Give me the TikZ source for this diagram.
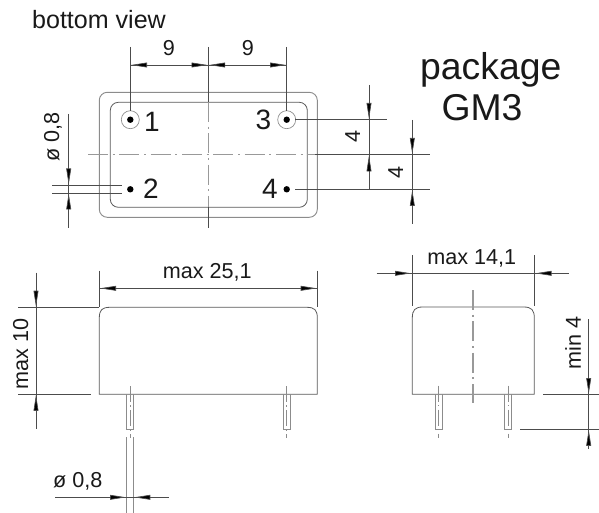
\documentclass[tikz,border=0pt]{standalone}
\usepackage{fontspec}
\setmainfont{Liberation Sans}
\usetikzlibrary{arrows.meta}
\tikzset{
  thinline/.style={draw=black!65,line width=0.6pt},
  paleline/.style={draw=black!45,line width=0.7pt},
  dimline/.style={draw=black!70,line width=0.5pt},
  dimtip/.style={draw=none,-{Triangle[length=12pt,width=3.6pt,fill=black]},line width=0.5pt,draw=black!70,shorten >=0pt},
  center1/.style={draw=black!40,line width=0.8pt,dash pattern=on 15pt off 3.5pt on 1.5pt off 3.5pt},
  center2/.style={draw=black!45,line width=0.6pt,dash pattern=on 12pt off 2.5pt on 1pt off 2.5pt},
  lab/.style={inner sep=0pt,text=black!90},
  labS/.style={lab,font=\fontsize{16.2}{18}\selectfont},
  labP/.style={lab,font=\fontsize{21}{24}\selectfont},
  labT/.style={lab,font=\fontsize{28}{30}\selectfont},
}
\begin{document}
\begin{tikzpicture}[x=0.75pt,y=-0.75pt]
\useasboundingbox (0,0) rectangle (599,513);
% ---- bottom view
\node[lab,font=\fontsize{18.8}{20}\selectfont,anchor=center] (title) at (99,20) {bottom view};
\draw[paleline,rounded corners=6pt] (99.3,92.3) rectangle (317.3,217.3);
\draw[thinline,rounded corners=6pt] (110.3,102.3) rectangle (307.3,207.3);
\foreach \n/\x/\y in {a/130.3/119.7,b/286.7/119.7}{
  \draw[paleline,line width=0.5pt] (\x,\y) circle[radius=9];
}
\foreach \n/\x/\y in {p1/130.3/119.7,p3/286.7/119.7,p2/130.3/189.3,p4/286.7/189.3}{
  \fill[black] (\x,\y) circle[radius=3.2];
  \coordinate (\n) at (\x,\y);
}
\node[labP] (n1) at (152,122) {1};
\node[labP] (n3) at (263.5,120) {3};
\node[labP] (n2) at (151,189) {2};
\node[labP] (n4) at (270,189) {4};
% centre lines
\draw[dimline] (208.3,47) -- (208.3,102);
\draw[center1] (208.3,102) -- (208.3,207);
\draw[dimline] (208.3,207) -- (208.3,228);
\draw[center1] (88,154.7) -- (315,154.7);
\draw[dimline] (315,154.7) -- (430,154.7);
% 9 / 9
\draw[dimline] (130.3,47) -- (130.3,111);
\draw[dimline] (286.7,47) -- (286.7,111);
\draw[dimline] (130.3,65) -- (286.7,65);
\draw[dimtip] (148,65) -- (131,65);
\draw[dimtip] (190,65) -- (207.5,65);
\draw[dimtip] (226,65) -- (209.2,65);
\draw[dimtip] (269,65) -- (286,65);
\node[labS] (d9a) at (169,48) {9};
\node[labS] (d9b) at (248,48) {9};
% pin dia, left
\draw[dimline] (68.7,114) -- (68.7,228);
\draw[dimline] (52,185) -- (122,185);
\draw[dimline] (52,193) -- (122,193);
\draw[dimtip] (68.7,168) -- (68.7,184.5);
\draw[dimtip] (68.7,211) -- (68.7,193.5);
\node[labS,rotate=90] (dia1) at (53,137) {ø 0,8};
% right 4 / 4
\draw[dimline] (295,119.7) -- (386.7,119.7);
\draw[dimline] (295,189.3) -- (430,189.3);
\draw[dimline] (369,85) -- (369,189.3);
\draw[dimtip] (369,102) -- (369,119);
\draw[dimtip] (369,172) -- (369,155.5);
\node[labS,rotate=90] (r4a) at (352.7,136.7) {4};
\draw[dimline] (412.3,120) -- (412.3,224);
\draw[dimtip] (412.3,137) -- (412.3,154);
\draw[dimtip] (412.3,207) -- (412.3,190);
\node[labS,rotate=90] (r4b) at (395.7,172) {4};
% package
\node[labT] (pk) at (490.8,69.5) {package};
\node[labT] (gm) at (482,107.5) {GM3};
% ---- front view
\draw[thinline] (99.3,394.3) -- (99.3,318) .. controls (99.3,310) and (102,307.3) .. (110,307.3) -- (306.6,307.3) .. controls (314.6,307.3) and (317.3,310) .. (317.3,318) -- (317.3,394.3) -- cycle;
\foreach \x in {130.2,286.8}{
  \draw[paleline,line width=0.5pt] (\x-3.5,394.3) -- (\x-3.5,429.3) -- (\x+3.5,429.3) -- (\x+3.5,394.3);
  \draw[center2] (\x,386) -- (\x,437.5);
}
\draw[dimline] (99.3,270.7) -- (99.3,307);
\draw[dimline] (317.3,270.7) -- (317.3,307);
\draw[dimline] (99.3,288.3) -- (317.3,288.3);
\draw[dimtip] (117,288.3) -- (100,288.3);
\draw[dimtip] (299.3,288.3) -- (316.7,288.3);
\node[labS] (w) at (207.3,272.7) {max 25,1};
\draw[dimline] (36,272.7) -- (36,429);
\draw[dimline] (18.3,307.3) -- (99.3,307.3);
\draw[dimline] (18.3,394.3) -- (90.7,394.3);
\draw[dimtip] (36,290.7) -- (36,306.7);
\draw[dimtip] (36,411) -- (36,394.8);
\node[labS,rotate=90] (h) at (20.7,353.8) {max 10};
% lower pin dia
\draw[paleline,line width=0.5pt] (126.7,437.3) -- (126.7,513);
\draw[paleline,line width=0.5pt] (133.7,437.3) -- (133.7,513);
\draw[dimline] (55,497.3) -- (169,497.3);
\draw[dimtip] (110,497.3) -- (126,497.3);
\draw[dimtip] (151.7,497.3) -- (134.3,497.3);
\node[labS] (dia2) at (77.7,481.7) {ø 0,8};
% ---- side view
\draw[thinline] (412.3,394.3) -- (412.3,318) .. controls (412.3,310) and (415,307) .. (423,307) -- (523.6,307) .. controls (531.6,307) and (534.3,310) .. (534.3,318) -- (534.3,394.3) -- cycle;
\foreach \x in {438.5,508}{
  \draw[paleline,line width=0.5pt] (\x-3.5,394.3) -- (\x-3.5,429.3) -- (\x+3.5,429.3) -- (\x+3.5,394.3);
  \draw[center2] (\x,385.7) -- (\x,437.5);
}
\draw[center1] (473,290) -- (473,403);
\draw[dimline] (412.3,255) -- (412.3,306);
\draw[dimline] (534.3,255) -- (534.3,306);
\draw[dimline] (376.7,273.3) -- (569.3,273.3);
\draw[dimtip] (394,273.3) -- (411,273.3);
\draw[dimtip] (552.3,273.3) -- (535.5,273.3);
\node[labS] (w2) at (471.7,258) {max 14,1};
\draw[dimline] (588.7,319) -- (588.7,449.3);
\draw[dimline] (543.3,394.3) -- (599,394.3);
\draw[dimline] (520,429.3) -- (599,429.3);
\draw[dimtip] (588.7,377) -- (588.7,394);
\draw[dimtip] (588.7,446) -- (588.7,429.8);
\node[labS,rotate=90] (m4) at (573,343) {min 4};
\end{tikzpicture}
\end{document}
